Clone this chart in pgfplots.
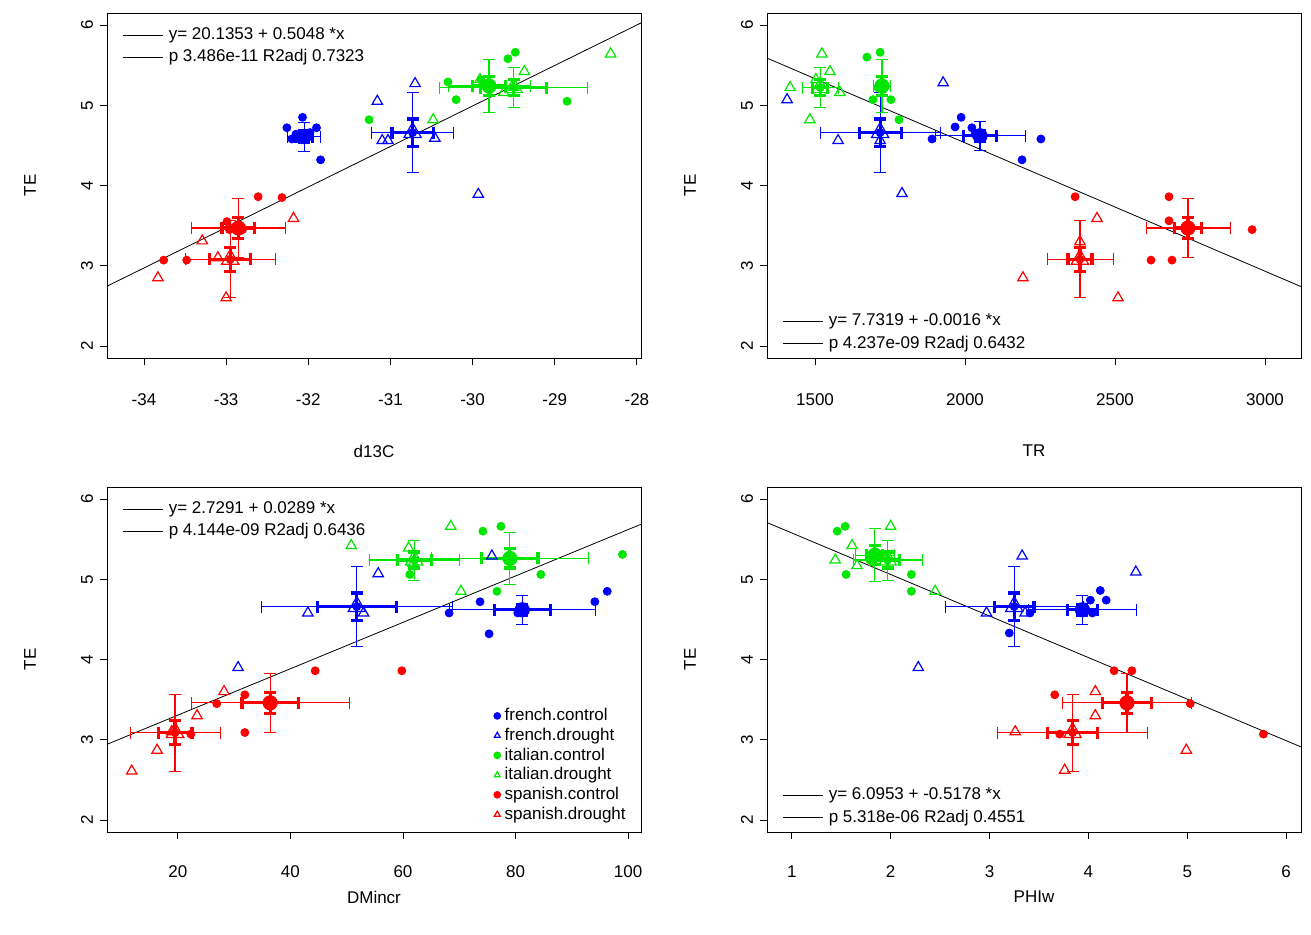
\documentclass[border=0pt]{standalone}
\usepackage{pgfplots}
\pgfplotsset{compat=1.18}
\usepackage{fontspec}
\setmainfont{Liberation Sans}
\definecolor{rb}{RGB}{0,0,255}
\definecolor{rg}{RGB}{0,230,0}
\definecolor{rr}{RGB}{255,0,0}
\pgfplotsset{
 rstyle/.style={width=267pt,height=172.5pt,scale only axis,
  tick align=outside, tick style={black,thin}, major tick length=3.5pt,
  /pgf/number format/assume math mode=true,
  /pgf/number format/1000 sep={},
  ticklabel style={font=\fontsize{8.5}{10}\selectfont},
  label style={font=\fontsize{8.5}{10}\selectfont},
  yticklabel style={rotate=90,anchor=south},
  xtick pos=bottom, ytick pos=left,
  ymin=1.85,ymax=6.15, ytick={2,3,4,5,6},
  ylabel={TE}, ylabel style={at={(rel axis cs:0,0.5)},anchor=south,xshift=0pt,yshift=32pt},
  xlabel style={at={(rel axis cs:0.5,0)},anchor=north,yshift=-40pt},
  xticklabel style={yshift=-11pt},
  clip=true},
 bot/.style={xlabel style={yshift=14pt}, xticklabel style={yshift=1pt}},
 pc/.style={only marks,mark=*,mark size=2pt,draw=#1,fill=#1},
 pt/.style={only marks,mark=triangle,mark size=3pt,draw=#1,line width=0.6pt},
}
\newcommand{\meanpt}[9]{%
 \addplot[forget plot,only marks,#1,mark=#2,mark size=#9,line width=0.6pt,
   error bars/.cd,x dir=both,x explicit,y dir=both,y explicit,
   error bar style={#1,line width=0.6pt},error mark options={rotate=90,mark size=3pt,#1}]
   coordinates {(#3,#4) +- (#5,#6)};
 \addplot[forget plot,only marks,#1,mark=none,
   error bars/.cd,x dir=both,x explicit,y dir=both,y explicit,
   error bar style={#1,line width=1.6pt},error mark options={rotate=90,mark size=3pt,#1,line width=1.6pt}]
   coordinates {(#3,#4) +- (#7,#8)};
}
\newcommand{\eqleg}[3]{%
 \draw[black,thin] (rel axis cs:0.03,#1) -- (rel axis cs:0.105,#1);
 \node[right,font=\fontsize{8.5}{10}\selectfont,inner sep=0pt] at (rel axis cs:0.115,#1) {#2};
 \draw[black,thin] (rel axis cs:0.03,#1-0.064) -- (rel axis cs:0.105,#1-0.064);
 \node[right,font=\fontsize{8.5}{10}\selectfont,inner sep=0pt] at (rel axis cs:0.115,#1-0.064) {#3};
}
\begin{document}
\begin{tikzpicture}[x=1pt,y=1pt]
\path[use as bounding box] (0,0) rectangle (655.5,467);
%% Panel 1
\begin{axis}[rstyle,at={(53.5pt,288pt)},xmin=-34.45,xmax=-27.95,xtick={-34,...,-28},xlabel={d13C}]
\addplot[domain=-34.45:-27.95,black,thin,samples=2] {20.1353+0.5048*x};
\addplot[pc=rb] coordinates {(-32.26,4.72)(-32.07,4.85)(-31.9,4.72)(-32.2,4.58)(-32.1,4.58)(-31.85,4.32)(-31.98,4.66)(-32.15,4.64)};
\addplot[pt=rb] coordinates {(-31.16,5.05)(-30.7,5.27)(-31.1,4.56)(-30.46,4.59)(-29.93,3.89)(-31.03,4.56)};
\addplot[pc=rg] coordinates {(-30.3,5.29)(-30.2,5.07)(-29.57,5.58)(-29.48,5.66)(-29.8,5.2)(-28.85,5.05)(-31.26,4.82)(-29.9,5.32)};
\addplot[pt=rg] coordinates {(-28.32,5.64)(-29.37,5.42)(-30.48,4.82)(-29.62,5.16)(-29.91,5.32)(-29.5,5.22)};
\addplot[pc=rr] coordinates {(-33.76,3.07)(-33.48,3.07)(-32.61,3.86)(-32.32,3.85)(-32.8,3.45)(-32.99,3.55)(-32.96,3.45)};
\addplot[pt=rr] coordinates {(-33.83,2.85)(-33.29,3.31)(-33.0,2.6)(-32.18,3.59)(-33.1,3.1)};
\meanpt{rb}{*}{-32.05}{4.61}{0.2}{0.18}{0.1}{0.07}{3.5pt}
\meanpt{rb}{triangle}{-30.73}{4.66}{0.5}{0.5}{0.25}{0.17}{5pt}
\meanpt{rg}{*}{-29.8}{5.24}{0.5}{0.33}{0.2}{0.12}{3.5pt}
\meanpt{rg}{triangle}{-29.5}{5.22}{0.9}{0.25}{0.4}{0.1}{5pt}
\meanpt{rr}{*}{-32.85}{3.47}{0.57}{0.37}{0.2}{0.13}{3.5pt}
\meanpt{rr}{triangle}{-32.95}{3.08}{0.55}{0.48}{0.25}{0.15}{5pt}
\eqleg{0.935}{y= 20.1353 + 0.5048 *x}{p 3.486e-11 R2adj 0.7323}
\end{axis}
%% Panel 2
\begin{axis}[rstyle,at={(383.5pt,288pt)},xmin=1340,xmax=3120,xtick={1500,2000,2500,3000},xlabel={TR}]
\addplot[domain=1340:3120,black,thin,samples=2] {7.7319-0.0016*x};
\addplot[pc=rb] coordinates {(1967,4.73)(1987,4.85)(2023,4.72)(1890,4.58)(2253,4.58)(2190,4.32)(2033,4.64)};
\addplot[pt=rb] coordinates {(1407,5.07)(1927,5.28)(1577,4.56)(1790,3.9)(1717,4.56)};
\addplot[pc=rg] coordinates {(1673,5.6)(1717,5.66)(1693,5.07)(1753,5.07)(1780,4.82)(1710,5.22)};
\addplot[pt=rg] coordinates {(1523,5.64)(1550,5.42)(1483,4.82)(1417,5.22)(1583,5.16)(1503,5.32)};
\addplot[pc=rr] coordinates {(2367,3.86)(2680,3.86)(2620,3.07)(2690,3.07)(2957,3.45)(2680,3.56)};
\addplot[pt=rr] coordinates {(2193,2.85)(2510,2.6)(2440,3.59)(2383,3.3)};
\meanpt{rb}{*}{2050}{4.62}{150}{0.18}{55}{0.07}{3.5pt}
\meanpt{rb}{triangle}{1717}{4.66}{200}{0.5}{70}{0.17}{5pt}
\meanpt{rg}{*}{1723}{5.24}{28}{0.33}{10}{0.12}{3.5pt}
\meanpt{rg}{triangle}{1517}{5.22}{60}{0.25}{25}{0.1}{5pt}
\meanpt{rr}{*}{2743}{3.47}{140}{0.37}{45}{0.13}{3.5pt}
\meanpt{rr}{triangle}{2383}{3.08}{110}{0.48}{40}{0.15}{5pt}
\eqleg{0.105}{y= 7.7319 + -0.0016 *x}{p 4.237e-09 R2adj 0.6432}
\end{axis}
%% Panel 3
\begin{axis}[rstyle,bot,at={(53.5pt,51pt)},xmin=7.4,xmax=102.3,xtick={20,40,60,80,100},xlabel={DMincr},
  legend style={draw=none,fill=none,at={(rel axis cs:0.72,0.01)},anchor=south west,
   font=\fontsize{8.5}{10}\selectfont,row sep=-1.8pt,inner sep=1pt},
  legend cell align=left, legend image code/.code={\draw[#1,mark size=1.7pt] plot coordinates {(0.2em,0)};}]
\addplot[forget plot,domain=7.4:102.3,black,thin,samples=2] {2.7291+0.0289*x};
\addplot[pc=rb] coordinates {(96.3,4.85)(94.1,4.72)(73.7,4.72)(75.3,4.32)(68.2,4.58)(80.4,4.58)(81.5,4.65)};
\addlegendentry{french.control}
\addplot[pt=rb] coordinates {(30.7,3.9)(43.1,4.58)(53,4.58)(55.6,5.07)(75.8,5.29)};
\addlegendentry{french.drought}
\addplot[pc=rg] coordinates {(74.2,5.6)(77.4,5.66)(99,5.31)(84.5,5.06)(76.7,4.85)(61.2,5.06)};
\addlegendentry{italian.control}
\addplot[pt=rg] coordinates {(68.5,5.66)(50.8,5.42)(70.3,4.85)(61.8,5.2)(61,5.39)};
\addlegendentry{italian.drought}
\addplot[pc=rr] coordinates {(44.4,3.86)(59.8,3.86)(31.9,3.56)(26.9,3.45)(31.9,3.09)(22.3,3.07)};
\addlegendentry{spanish.control}
\addplot[pt=rr] coordinates {(11.8,2.61)(16.3,2.87)(28.2,3.6)(23.4,3.3)(18.9,3.1)};
\addlegendentry{spanish.drought}
\meanpt{rb}{*}{81.2}{4.62}{13}{0.18}{5}{0.07}{3.5pt}
\meanpt{rb}{triangle}{51.8}{4.66}{17}{0.5}{7}{0.17}{5pt}
\meanpt{rg}{*}{79}{5.26}{14}{0.33}{5}{0.12}{3.5pt}
\meanpt{rg}{triangle}{62}{5.24}{8}{0.25}{3}{0.1}{5pt}
\meanpt{rr}{*}{36.4}{3.46}{14}{0.37}{5}{0.13}{3.5pt}
\meanpt{rr}{triangle}{19.5}{3.09}{8}{0.48}{3}{0.15}{5pt}
\eqleg{0.935}{y= 2.7291 + 0.0289 *x}{p 4.144e-09 R2adj 0.6436}
\end{axis}
%% Panel 4
\begin{axis}[rstyle,bot,at={(383.5pt,51pt)},xmin=0.75,xmax=6.15,xtick={1,...,6},xlabel={PHIw}]
\addplot[domain=0.75:6.15,black,thin,samples=2] {6.0953-0.5178*x};
\addplot[pc=rb] coordinates {(4.12,4.86)(4.18,4.74)(4.02,4.74)(3.2,4.33)(3.41,4.58)(4.04,4.58)};
\addplot[pt=rb] coordinates {(4.48,5.09)(3.33,5.29)(2.28,3.9)(2.97,4.58)(3.36,4.58)};
\addplot[pc=rg] coordinates {(1.46,5.6)(1.54,5.66)(1.55,5.06)(2.21,5.06)(2.21,4.85)(1.79,5.24)};
\addplot[pt=rg] coordinates {(2.0,5.66)(1.61,5.42)(2.45,4.85)(1.44,5.24)(1.66,5.17)};
\addplot[pc=rr] coordinates {(4.26,3.86)(4.44,3.86)(3.66,3.56)(5.03,3.45)(3.71,3.07)(5.77,3.07)};
\addplot[pt=rr] coordinates {(3.76,2.62)(4.99,2.87)(4.07,3.6)(4.07,3.3)(3.26,3.1)};
\meanpt{rb}{*}{3.94}{4.62}{0.55}{0.18}{0.15}{0.07}{3.5pt}
\meanpt{rb}{triangle}{3.25}{4.66}{0.7}{0.5}{0.2}{0.17}{5pt}
\meanpt{rg}{*}{1.84}{5.3}{0.2}{0.33}{0.08}{0.12}{3.5pt}
\meanpt{rg}{triangle}{1.97}{5.24}{0.35}{0.25}{0.12}{0.1}{5pt}
\meanpt{rr}{*}{4.39}{3.46}{0.65}{0.37}{0.25}{0.13}{3.5pt}
\meanpt{rr}{triangle}{3.84}{3.09}{0.76}{0.48}{0.25}{0.15}{5pt}
\eqleg{0.105}{y= 6.0953 + -0.5178 *x}{p 5.318e-06 R2adj 0.4551}
\end{axis}
\end{tikzpicture}
\end{document}
